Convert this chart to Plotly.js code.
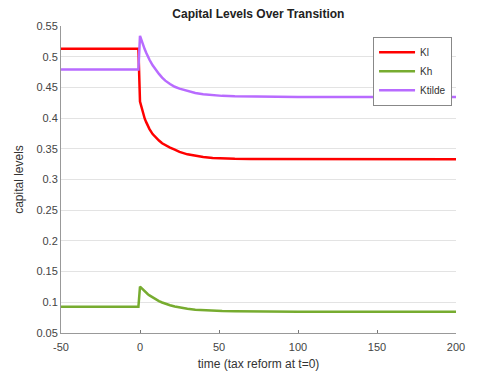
<!DOCTYPE html>
<html>
<head>
<meta charset="utf-8">
<script src="https://cdn.plot.ly/plotly-3.0.1.min.js"></script>
<style>html,body{margin:0;padding:0;background:#fff;}#chart{width:482px;height:374px;}</style>
</head>
<body>
<div id="chart"></div>
<script>
const time   = [-50, -1, 0, 1, 2, 3, 4, 5, 6, 8, 10, 12, 14, 16, 19, 22, 25, 30, 35, 40, 46, 52, 60, 70, 100, 200];
const Kl     = [0.513, 0.513, 0.427, 0.416, 0.406, 0.399, 0.393, 0.387, 0.382, 0.374, 0.368, 0.3635, 0.359, 0.356, 0.352, 0.3485, 0.345, 0.341, 0.3385, 0.3365, 0.3350, 0.3342, 0.3336, 0.3332, 0.333, 0.333];
const Kh     = [0.0928, 0.0928, 0.1254, 0.1226, 0.1200, 0.1176, 0.1153, 0.1132, 0.1112, 0.1077, 0.1046, 0.1020, 0.0997, 0.0977, 0.0952, 0.0932, 0.0915, 0.0895, 0.0880, 0.0870, 0.0862, 0.0857, 0.0853, 0.0850, 0.0848, 0.0847];
const Ktilde = [0.479, 0.479, 0.534, 0.526, 0.518, 0.512, 0.506, 0.500, 0.495, 0.486, 0.478, 0.472, 0.466, 0.461, 0.4555, 0.451, 0.448, 0.444, 0.441, 0.439, 0.437, 0.4362, 0.4355, 0.435, 0.4345, 0.4343];
const seriesNames = ['Kl', 'Kh', 'Ktilde'];
const colors = ['#FF0000', '#77AC30', '#B86BFF'];
const xTicks = [-50, 0, 50, 100, 150, 200];
const yTicks = [0.05, 0.1, 0.15, 0.2, 0.25, 0.3, 0.35, 0.4, 0.45, 0.5, 0.55];

const data = [Kl, Kh, Ktilde].map((v, i) => ({
  x: time, y: v, type: 'scatter', mode: 'lines', name: seriesNames[i],
  line: {color: colors[i], width: 2.5}
}));

const layout = {
  width: 482, height: 374,
  margin: {l: 61, r: 26, t: 26, b: 41},
  paper_bgcolor: '#fff', plot_bgcolor: '#fff',
  font: {family: 'Liberation Sans, Arial, sans-serif', size: 11, color: '#444'},
  title: {text: '<b>Capital Levels Over Transition</b>', x: 0.536, xanchor: 'center', y: 0.962, yanchor: 'middle',
          font: {size: 12, color: '#222'}},
  xaxis: {range: [-50, 200], tickvals: xTicks, ticktext: xTicks.map(String),
          showgrid: false, zeroline: false, showline: true, linecolor: '#999', linewidth: 1,
          ticks: 'inside', ticklen: 3, tickcolor: '#777', ticklabelstandoff: 4,
          title: {text: 'time (tax reform at t=0)', font: {size: 12, color: '#333'}, standoff: 7}},
  yaxis: {range: [0.05, 0.55], tickvals: yTicks, ticktext: yTicks.map(String),
          showgrid: true, gridcolor: '#e3e3e3', gridwidth: 1, zeroline: false,
          showline: true, linecolor: '#999', linewidth: 1, ticks: '',
          title: {text: 'capital levels', font: {size: 12, color: '#333'}, standoff: 10}},
  legend: {x: 0.79, y: 0.965, xanchor: 'left', yanchor: 'top', bgcolor: '#fff',
           bordercolor: '#888', borderwidth: 1, font: {size: 10, color: '#333'},
           tracegroupgap: 0, itemwidth: 36},
  showlegend: true
};

Plotly.newPlot('chart', data, layout, {displayModeBar: false, staticPlot: true});
</script>
</body>
</html>
